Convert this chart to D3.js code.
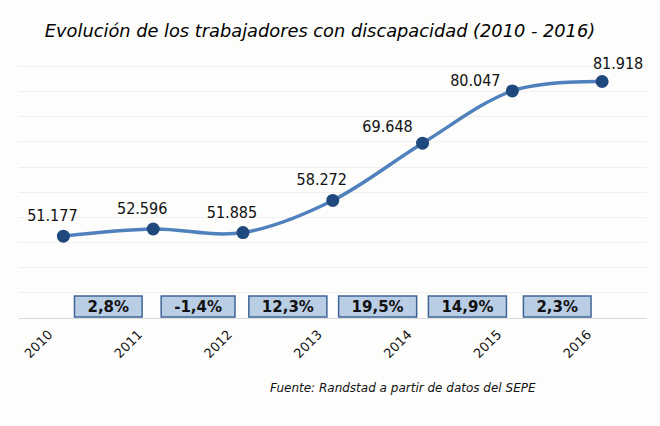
<!DOCTYPE html>
<html>
<head>
<meta charset="utf-8">
<script src="https://cdn.jsdelivr.net/npm/d3@7"></script>
<style>
  body { margin: 0; background: #fdfdfc; }
  svg { display: block; }
</style>
</head>
<body>
<svg id="chart" width="660" height="426"></svg>
<script>
// Data
const years = ['2010', '2011', '2012', '2013', '2014', '2015', '2016'];
const workers = [51177, 52596, 51885, 58272, 69648, 80047, 81918];
const workerLabels = ['51.177', '52.596', '51.885', '58.272', '69.648', '80.047', '81.918'];
const changeLabels = ['2,8%', '-1,4%', '12,3%', '19,5%', '14,9%', '2,3%'];
const yTicks = d3.range(35000, 85001, 5000);

// where each value label sits relative to its point
const labelPlacement = ['above', 'above', 'above', 'above', 'aboveLeft', 'left', 'aboveRight'];

const svg = d3.select('#chart');
const W = 660, H = 426;

const x = d3.scaleBand().domain(years).range([18.5, 647]).padding(0);
const y = d3.scaleLinear().domain([35000, 85000]).range([317.5, 66]);
const cx = d => x(d) + x.bandwidth() / 2;

svg.append('rect').attr('width', W).attr('height', H).attr('fill', '#fdfdfc');

// gridlines
svg.append('g')
    .selectAll('line')
    .data(yTicks)
    .enter()
    .append('line')
    .attr('x1', 18.5)
    .attr('x2', 647)
    .attr('y1', d => Math.round(y(d)) + 0.5)
    .attr('y2', d => Math.round(y(d)) + 0.5)
    .attr('stroke', (d, i) => i === 0 ? '#d9d9d9' : '#efefef')
    .attr('stroke-width', 1);

// x axis labels, rotated
const xAxis = svg.append('g')
    .attr('transform', `translate(0,${y(35000)})`)
    .call(d3.axisBottom(x).tickSize(0).tickPadding(0));
xAxis.select('.domain').remove();
xAxis.selectAll('text')
    .attr('font-family', 'DejaVu Sans, Verdana, sans-serif')
    .attr('font-size', 13)
    .attr('fill', '#111')
    .attr('text-anchor', 'end')
    .attr('dy', null)
    .attr('transform', 'translate(-10,18) rotate(-45)');

// percentage change boxes between years
const boxes = svg.append('g');
changeLabels.forEach((label, i) => {
    const mid = (cx(years[i]) + cx(years[i + 1])) / 2;
    const t = boxes.append('text')
        .attr('x', mid)
        .attr('y', 312)
        .attr('text-anchor', 'middle')
        .attr('font-family', 'DejaVu Sans, Verdana, sans-serif')
        .attr('font-weight', 'bold')
        .attr('font-size', 15)
        .attr('fill', '#111')
        .text(label);
    const w = t.node().getComputedTextLength() + 26;
    boxes.insert('rect', 'text')
        .attr('x', mid - w / 2)
        .attr('y', 296)
        .attr('width', w)
        .attr('height', 21)
        .attr('fill', '#b9cde5')
        .attr('stroke', '#3e6496')
        .attr('stroke-width', 1.5);
});

// smoothed line
const line = d3.line()
    .x((d, i) => cx(years[i]))
    .y(d => y(d))
    .curve(d3.curveCardinal.tension(0));

svg.append('path')
    .datum(workers)
    .attr('d', line)
    .attr('fill', 'none')
    .attr('stroke', '#4f81bd')
    .attr('stroke-width', 3.5)
    .attr('stroke-linecap', 'round');

svg.append('g')
    .selectAll('circle')
    .data(workers)
    .enter()
    .append('circle')
    .attr('cx', (d, i) => cx(years[i]))
    .attr('cy', d => y(d))
    .attr('r', 6.5)
    .attr('fill', '#1f497d');

// value labels
const offsets = {
    above: [-11, -15],
    aboveLeft: [-35, -11],
    left: [-37, -5],
    aboveRight: [16, -13]
};
svg.append('g')
    .selectAll('text')
    .data(workers)
    .enter()
    .append('text')
    .attr('x', (d, i) => cx(years[i]) + offsets[labelPlacement[i]][0])
    .attr('y', (d, i) => y(d) + offsets[labelPlacement[i]][1])
    .attr('text-anchor', 'middle')
    .attr('font-family', 'DejaVu Sans Condensed, DejaVu Sans, sans-serif')
    .attr('font-stretch', 'condensed')
    .attr('font-size', 16)
    .attr('fill', '#111')
    .text((d, i) => workerLabels[i]);

// title and source
svg.append('text')
    .attr('x', 320)
    .attr('y', 37)
    .attr('text-anchor', 'middle')
    .attr('font-family', 'DejaVu Sans, Verdana, sans-serif')
    .attr('font-style', 'italic')
    .attr('font-size', 17.8)
    .attr('fill', '#000')
    .text('Evolución de los trabajadores con discapacidad (2010 - 2016)');

svg.append('text')
    .attr('x', 270)
    .attr('y', 392)
    .attr('font-family', 'DejaVu Sans, Verdana, sans-serif')
    .attr('font-style', 'italic')
    .attr('font-size', 12)
    .attr('fill', '#111')
    .text('Fuente: Randstad a partir de datos del SEPE');
</script>
</body>
</html>
